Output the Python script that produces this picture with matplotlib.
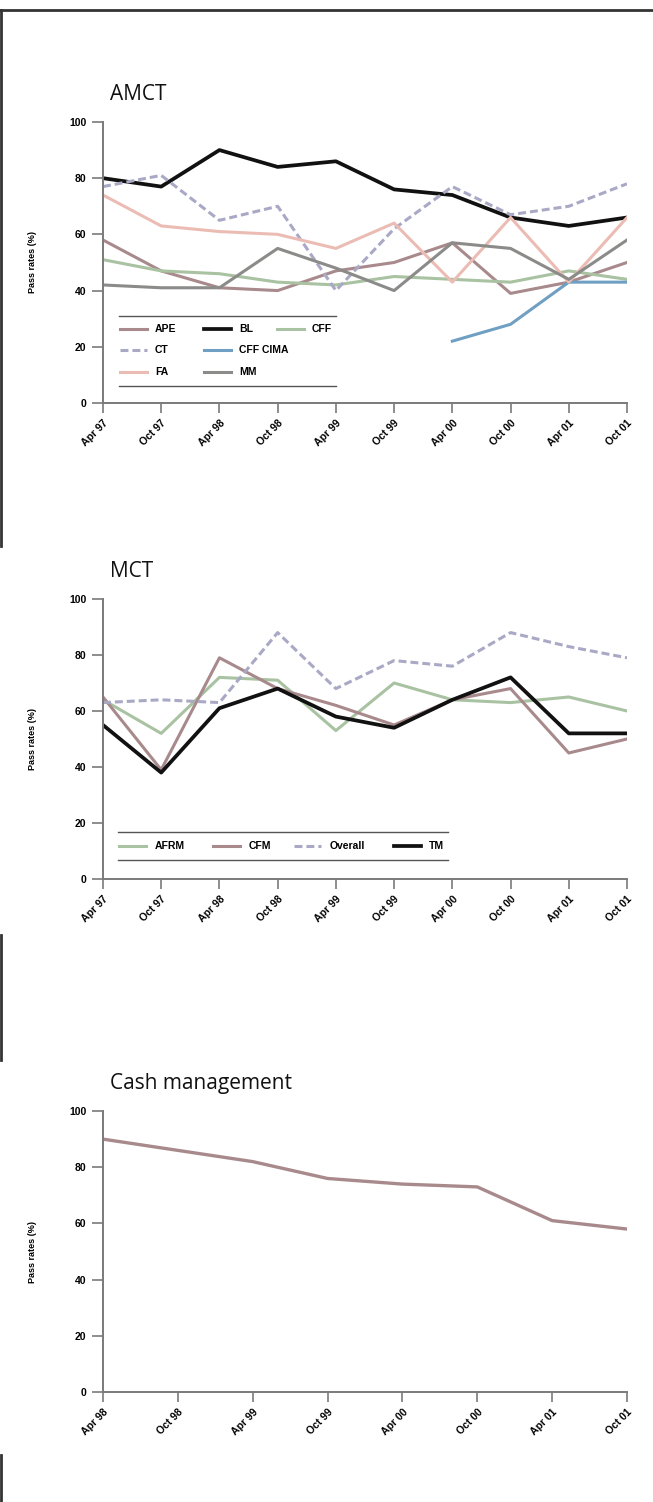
import numpy as np
import matplotlib.pyplot as plt
from matplotlib.lines import Line2D

# Exam sessions
sessions_97 = ["Apr 97", "Oct 97", "Apr 98", "Oct 98", "Apr 99",
               "Oct 99", "Apr 00", "Oct 00", "Apr 01", "Oct 01"]
sessions_98 = ["Apr 98", "Oct 98", "Apr 99", "Oct 99",
               "Apr 00", "Oct 00", "Apr 01", "Oct 01"]

# AMCT pass rates (%)
amct_ape = [58, 47, 41, 40, 47, 50, 57, 39, 43, 50]
amct_bl = [80, 77, 90, 84, 86, 76, 74, 66, 63, 66]
amct_cff = [51, 47, 46, 43, 42, 45, 44, 43, 47, 44]
amct_ct = [77, 81, 65, 70, 40, 62, 77, 67, 70, 78]
amct_cff_cima = [None, None, None, None, None, None, 22, 28, 43, 43]
amct_fa = [74, 63, 61, 60, 55, 64, 43, 66, 43, 66]
amct_mm = [42, 41, 41, 55, 48, 40, 57, 55, 44, 58]

# MCT pass rates (%)
mct_afrm = [64, 52, 72, 71, 53, 70, 64, 63, 65, 60]
mct_cfm = [65, 39, 79, 68, 62, 55, 64, 68, 45, 50]
mct_overall = [63, 64, 63, 88, 68, 78, 76, 88, 83, 79]
mct_tm = [55, 38, 61, 68, 58, 54, 64, 72, 52, 52]

# Cash management pass rates (%)
cash = [90, 86, 82, 76, 74, 73, 61, 58]

MAUVE = "#a88a8c"
GREEN = "#a9c2a2"
LAVENDER = "#a9a9c6"
BLUE = "#6f9fc2"
PINK = "#ebbcb3"
GREY = "#8b8b89"
BLACK = "#111111"
AXIS = "#7a7a7a"

TICK_FONT = dict(family="Liberation Sans", weight="bold", size=7.5)


def series(vals):
    return np.array([np.nan if v is None else v for v in vals], dtype=float)


def setup_axes(ax, labels, title):
    n = len(labels)
    ax.set_xlim(0, n - 1)
    ax.set_ylim(0, 100)
    ax.set_xticks(range(n))
    ax.set_xticklabels(labels, rotation=45, ha="right", rotation_mode="anchor",
                       **TICK_FONT)
    ax.set_yticks(range(0, 101, 20))
    ax.set_yticklabels([str(v) for v in range(0, 101, 20)], **TICK_FONT)
    for s in ["top", "right"]:
        ax.spines[s].set_visible(False)
    for s in ["left", "bottom"]:
        ax.spines[s].set_color(AXIS)
        ax.spines[s].set_linewidth(1.4)
    ax.tick_params(axis="both", direction="out", color=AXIS, width=1.2)
    ax.tick_params(axis="y", length=8, pad=4)
    ax.tick_params(axis="x", length=7, pad=4)
    ax.set_ylabel("Pass rates (%)", family="Liberation Sans", weight="bold",
                  size=6.5)
    ax.yaxis.set_label_coords(-0.125, 0.5)
    ax.text(0.013, 1.06, title, transform=ax.transAxes, family="Open Sans",
            size=15, weight="medium", va="bottom", ha="left", color="#111111")


def legend_entry(ax, x, y, label, **style):
    ax.add_line(Line2D([x, x + 0.052], [y, y], transform=ax.transAxes,
                       clip_on=False, **style))
    ax.text(x + 0.067, y, label, transform=ax.transAxes, va="center",
            ha="left", family="Liberation Sans", weight="bold", size=7.5)


def legend_rules(ax, x0, x1, ys):
    for y in ys:
        ax.add_line(Line2D([x0, x1], [y, y], transform=ax.transAxes,
                           color="#555555", lw=1.0, clip_on=False))


fig = plt.figure(figsize=(6.53, 15.02), dpi=100)

# page frame
fig.add_artist(Line2D([0, 1], [0.9933, 0.9933], color="#333333", lw=2))
for y0, y1 in [(10, 546), (935, 1060), (1455, 1502)]:
    fig.add_artist(Line2D([0.002, 0.002], [1 - y0 / 1502, 1 - y1 / 1502],
                          color="#333333", lw=2))

x97 = np.arange(len(sessions_97))
x98 = np.arange(len(sessions_98))

# AMCT
ax1 = fig.add_axes([0.1577, 0.7317, 0.8025, 0.1871])
amct = [
    ("APE", amct_ape, dict(color=MAUVE, lw=2.2)),
    ("BL", amct_bl, dict(color=BLACK, lw=2.7)),
    ("CFF", amct_cff, dict(color=GREEN, lw=2.2)),
    ("CT", amct_ct, dict(color=LAVENDER, lw=2.2, dashes=(2.6, 1.3))),
    ("CFF CIMA", amct_cff_cima, dict(color=BLUE, lw=2.2)),
    ("FA", amct_fa, dict(color=PINK, lw=2.2)),
    ("MM", amct_mm, dict(color=GREY, lw=2.2)),
]
for name, vals, style in amct:
    ax1.plot(x97, series(vals), **style)
setup_axes(ax1, sessions_97, "AMCT")

legend_rules(ax1, 0.031, 0.445, [0.310, 0.060])
cols = [0.032, 0.193, 0.332]
rows = [0.263, 0.189, 0.110]
grid = [(0, 0), (1, 0), (2, 0), (0, 1), (1, 1), (0, 2), (1, 2)]
for (name, vals, style), (c, r) in zip(amct, grid):
    legend_entry(ax1, cols[c], rows[r], name, **style)

# MCT
ax2 = fig.add_axes([0.1577, 0.4148, 0.8025, 0.1864])
mct = [
    ("AFRM", mct_afrm, dict(color=GREEN, lw=2.2)),
    ("CFM", mct_cfm, dict(color=MAUVE, lw=2.2)),
    ("Overall", mct_overall, dict(color=LAVENDER, lw=2.2, dashes=(2.6, 1.3))),
    ("TM", mct_tm, dict(color=BLACK, lw=2.7)),
]
for name, vals, style in mct:
    ax2.plot(x97, series(vals), **style)
setup_axes(ax2, sessions_97, "MCT")

legend_rules(ax2, 0.029, 0.658, [0.168, 0.068])
for (name, vals, style), x in zip(mct, [0.031, 0.210, 0.365, 0.555]):
    legend_entry(ax2, x, 0.118, name, **style)

# Cash management
ax3 = fig.add_axes([0.1577, 0.0732, 0.8025, 0.1871])
ax3.plot(x98, cash, color=MAUVE, lw=2.4)
setup_axes(ax3, sessions_98, "Cash management")

fig.savefig("out.png", dpi=100)
